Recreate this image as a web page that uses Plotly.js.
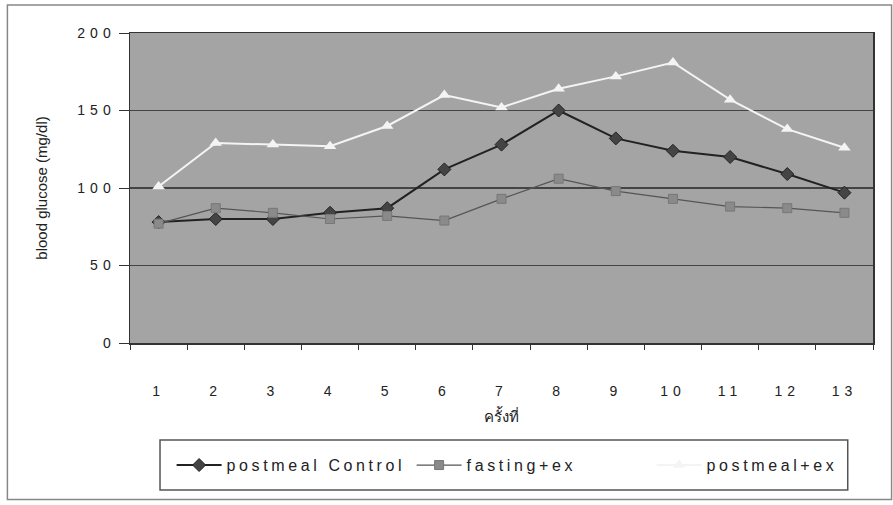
<!DOCTYPE html>
<html><head><meta charset="utf-8">
<script src="https://cdn.plot.ly/plotly-3.0.1.min.js"></script>
<style>
body{margin:0;background:#fff}
g.ytick text{letter-spacing:5px !important}
g.xtick text{letter-spacing:5px !important}
g.legend text.legendtext{letter-spacing:3.6px !important}
</style>
</head><body>
<div id="chart" style="width:893px;height:505px"></div>
<script>
const categories = ['1','2','3','4','5','6','7','8','9','10','11','12','13'];
const postmealControl = [78, 80, 80, 84, 87, 112, 128, 150, 132, 124, 120, 109, 97];
const fastingEx = [77, 87, 84, 80, 82, 79, 93, 106, 98, 93, 88, 87, 84];
const postmealEx = [101, 129, 128, 127, 140, 160, 152, 164, 172, 181, 157, 138, 126];
const seriesNames = ['postmeal Control', 'fasting+ex', 'postmeal+ex'];
const yTicks = [0, 50, 100, 150, 200];

const font = 'Arial, "Liberation Sans", sans-serif';
const traces = [
  {x: categories, y: postmealControl, name: seriesNames[0], type: 'scatter', mode: 'lines+markers',
   line: {color: '#222', width: 2}, marker: {symbol: 'diamond', size: 10, color: '#444', line: {color: '#222', width: 1}}},
  {x: categories, y: fastingEx, name: seriesNames[1], type: 'scatter', mode: 'lines+markers',
   line: {color: '#555', width: 1.2}, marker: {symbol: 'square', size: 9, color: '#8a8a8a', line: {color: '#777', width: 1}}},
  {x: categories, y: postmealEx, name: seriesNames[2], type: 'scatter', mode: 'lines+markers',
   line: {color: '#f4f4f4', width: 2}, marker: {symbol: 'triangle-up', size: 11, color: '#f4f4f4'}}
];
const layout = {
  width: 893, height: 505,
  margin: {l: 130, r: 20, t: 33, b: 162, autoexpand: false},
  paper_bgcolor: '#ffffff', plot_bgcolor: '#a4a4a4',
  font: {family: font, size: 13, color: '#222'},
  showlegend: true,
  legend: {orientation: 'h', x: 0.056, xanchor: 'left', y: -0.394, yanchor: 'middle',
    borderwidth: 0, bgcolor: 'rgba(0,0,0,0)', font: {size: 16, color: '#222'},
    entrywidth: 180, entrywidthmode: 'pixels', itemwidth: 45},
  xaxis: {type: 'category', range: [-0.5, 12.5], tickson: 'boundaries', ticks: 'outside', ticklen: 5, tickcolor: '#333',
    showline: true, linecolor: '#333', linewidth: 1.5, showgrid: false, mirror: true,
    ticklabelstandoff: 35, tickfont: {size: 14},
    title: {text: 'ครั้งที่', font: {size: 15, family: '"Noto Sans", "DejaVu Sans", sans-serif'}, standoff: 13}},
  yaxis: {range: [0, 200], tickvals: yTicks, ticks: 'outside', ticklen: 10, tickcolor: '#333',
    showline: true, linecolor: '#333', linewidth: 1.5, mirror: true,
    gridcolor: '#444', gridwidth: 1.5, zeroline: false, tickfont: {size: 14},
    title: {text: 'blood glucose (mg/dl)', font: {size: 15}, standoff: 26}},
  shapes: [
    {type: 'rect', xref: 'paper', yref: 'paper', x0: -0.165, x1: 1.025, y0: -0.505, y1: 1.09,
     line: {color: '#888', width: 1.5}, fillcolor: 'rgba(0,0,0,0)', layer: 'below'},
    {type: 'rect', xref: 'paper', yref: 'paper', x0: 0.0404, x1: 0.966, y0: -0.474, y1: -0.313,
     line: {color: '#555', width: 1.5}, fillcolor: 'rgba(0,0,0,0)', layer: 'above'}
  ]
};
Plotly.newPlot('chart', traces, layout, {displayModeBar: false, staticPlot: true});
</script>
</body></html>
